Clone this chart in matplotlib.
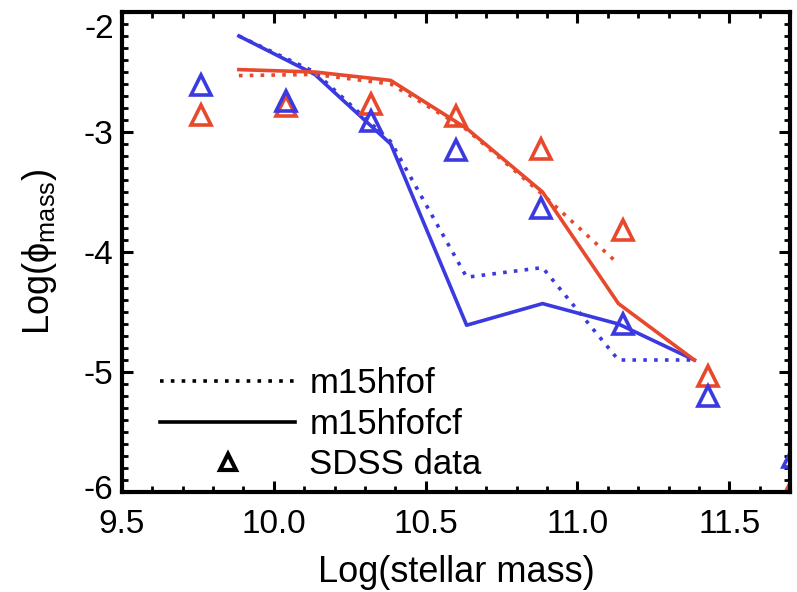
import matplotlib
matplotlib.use("Agg")
import matplotlib.pyplot as plt
import matplotlib.transforms as mtransforms
from matplotlib.lines import Line2D
from matplotlib.ticker import MultipleLocator, FuncFormatter
import numpy as np

plt.rcParams['font.family'] = ['Liberation Sans', 'DejaVu Sans']
plt.rcParams['axes.unicode_minus'] = False
plt.rcParams['mathtext.fontset'] = 'custom'
plt.rcParams['mathtext.rm'] = 'Liberation Sans'
plt.rcParams['mathtext.it'] = 'Liberation Sans:italic'

# model mass bins
model_x = [9.885, 10.135, 10.385, 10.635, 10.885, 11.135, 11.385]
blue_solid = [-2.20, -2.52, -3.10, -4.61, -4.43, -4.60, -4.90]
blue_dotted = [-2.20, -2.50, -3.08, -4.21, -4.13, -4.90, -4.90]
red_solid = [-2.48, -2.50, -2.57, -2.97, -3.50, -4.43, -4.90]
red_dotted = [-2.53, -2.52, -2.60, -2.98, -3.52, -4.10, np.nan]

# SDSS data
sdss_x = [9.76, 10.04, 10.32, 10.60, 10.88, 11.15, 11.43, 11.71]
sdss_blue = [-2.61, -2.74, -2.91, -3.15, -3.63, -4.60, -5.20, -5.71]
sdss_red = [-2.86, -2.78, -2.77, -2.87, -3.14, -3.82, -5.03, -5.96]

BLUE = '#3a3ae0'
RED = '#e8482c'

fig = plt.figure(figsize=(7.97, 5.92), dpi=100)
ax = fig.add_axes([122/797, 1-492/592, (790-122)/797, (492-12)/592])

lw = 2.6
ax.plot(model_x, blue_dotted, color=BLUE, lw=lw, ls=(0, (1, 2)))
ax.plot(model_x, blue_solid, color=BLUE, lw=lw)
ax.plot(model_x, red_dotted, color=RED, lw=lw, ls=(0, (1, 2)))
ax.plot(model_x, red_solid, color=RED, lw=lw)

ax.plot(sdss_x, sdss_red, ls='none', marker='^', ms=15, mfc='none', mec=RED, mew=2.6)
ax.plot(sdss_x, sdss_blue, ls='none', marker='^', ms=15, mfc='none', mec=BLUE, mew=2.6)

ax.set_xlim(9.5, 11.7)
ax.set_ylim(-6.0, -2.0)

ax.xaxis.set_major_locator(MultipleLocator(0.5))
ax.xaxis.set_minor_locator(MultipleLocator(0.1))
ax.yaxis.set_major_locator(MultipleLocator(1.0))
ax.yaxis.set_minor_locator(MultipleLocator(0.1))
ax.xaxis.set_major_formatter(FuncFormatter(lambda v, p: f"{v:.1f}"))
ax.yaxis.set_major_formatter(FuncFormatter(lambda v, p: f"{v:.0f}"))

ax.tick_params(which='both', direction='in', top=True, right=True, labelsize=24, colors='black')
ax.tick_params(which='major', length=8, width=2.2)
ax.tick_params(axis='x', which='major', pad=12)
ax.tick_params(axis='y', which='major', pad=6)
ax.tick_params(which='minor', length=4, width=2.0)
for s in ax.spines.values():
    s.set_linewidth(3)

ax.set_xlabel('Log(stellar mass)', fontsize=26, labelpad=11)
ax.set_ylabel(r'Log($\mathrm{\phi}_{\rm mass}$)', fontsize=26, labelpad=18)

handles = [
    Line2D([], [], color='black', lw=lw, ls=(0, (1, 2))),
    Line2D([], [], color='black', lw=lw),
    Line2D([], [], color='black', ls='none', marker='^', ms=11, mfc='none', mew=3),
]
leg = ax.legend(handles, ['m15hfof', 'm15hfofcf', 'SDSS data'], loc='lower left',
                bbox_to_anchor=(0.057, 0.022), frameon=False, fontsize=25,
                handlelength=3.9, handletextpad=0.4, labelspacing=0.22,
                borderpad=0, borderaxespad=0)

fig.canvas.draw()
for lab in ax.get_yticklabels():
    if lab.get_text() == '-2':
        lab.set_transform(lab.get_transform() + mtransforms.ScaledTranslation(0, -14/100, fig.dpi_scale_trans))
    if lab.get_text() == '-6':
        lab.set_transform(lab.get_transform() + mtransforms.ScaledTranslation(0, 5/100, fig.dpi_scale_trans))

fig.savefig('out.png', dpi=100)
